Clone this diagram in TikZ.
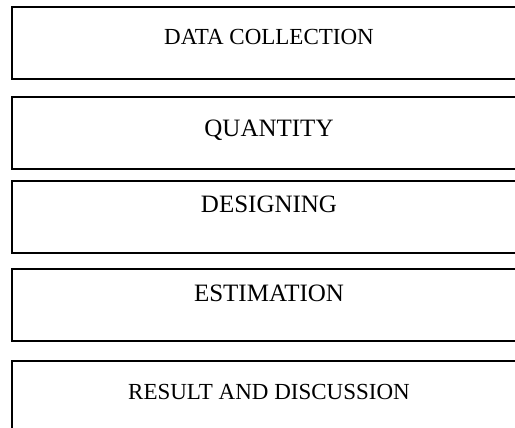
\documentclass[tikz,border=0pt]{standalone}
\usepackage{fontspec}
\setmainfont{Liberation Serif}
\begin{document}
\begin{tikzpicture}[x=1pt,y=-1pt,
  stage/.style={draw=black, line width=1.8pt, rectangle, inner sep=0pt,
    minimum width=514pt, minimum height=72pt},
  small/.style={anchor=base, inner sep=0pt, font=\fontsize{23}{27}\selectfont},
  big/.style={anchor=base, inner sep=0pt, font=\fontsize{25}{30}\selectfont}]
\useasboundingbox (0,0) rectangle (515,428);
\clip (0,0) rectangle (515,428);
\node[stage] (b1) at (269,43) {};
\node[stage] (b2) at (269,133) {};
\node[stage] (b3) at (269,217) {};
\node[stage] (b4) at (269,305) {};
\node[stage] (b5) at (269,397) {};
\node[small] (t1) at (269,45) {DATA COLLECTION};
\node[big] (t2) at (269,136) {QUANTITY};
\node[big] (t3) at (269,212) {DESIGNING};
\node[big] (t4) at (269,301) {ESTIMATION};
\node[small] (t5) at (269,399) {RESULT AND DISCUSSION};
\end{tikzpicture}
\end{document}
